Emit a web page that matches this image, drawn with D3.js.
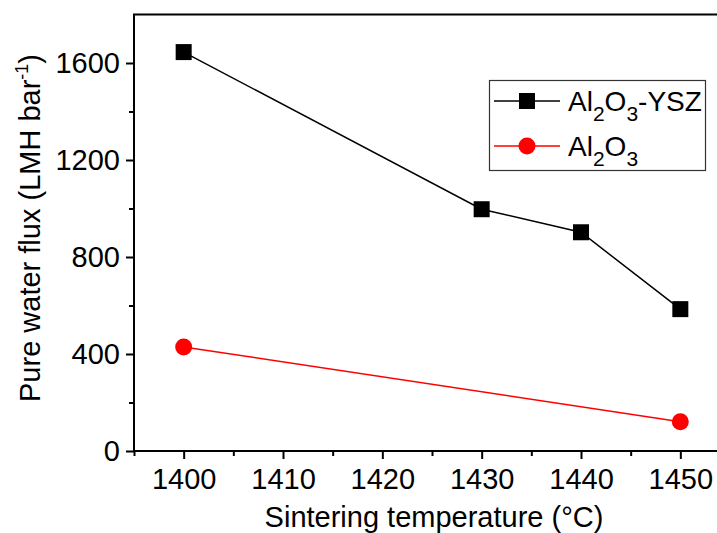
<!DOCTYPE html>
<html>
<head>
<meta charset="utf-8">
<script src="https://cdn.jsdelivr.net/npm/d3@7"></script>
<style>
  body { margin: 0; background: #fff; }
  text { font-family: "Liberation Sans", Arial, sans-serif; fill: #000; }
</style>
</head>
<body>
<div id="chart"></div>
<script>
// data
const temps = [1400, 1430, 1440, 1450];
const fluxYSZ = [1645, 997, 902, 585];
const tempsAl = [1400, 1450];
const fluxAl = [429, 121];
const xTicks = [1400, 1410, 1420, 1430, 1440, 1450];
const yTicks = [0, 400, 800, 1200, 1600];

const W = 717, H = 533;
const margin = {left: 134, top: 14.5, right: -13, bottom: 82};

const svg = d3.select("#chart").append("svg")
    .attr("width", W).attr("height", H);

const x = d3.scaleLinear().domain([1395, 1455]).range([margin.left, W - margin.right]);
const y = d3.scaleLinear().domain([0, 1800]).range([H - margin.bottom, margin.top]);

// frame
svg.append("rect")
    .attr("x", x(1395)).attr("y", y(1800))
    .attr("width", x(1455) - x(1395)).attr("height", y(0) - y(1800))
    .attr("fill", "none").attr("stroke", "#000").attr("stroke-width", 2);

// x axis
const xAxis = svg.append("g").attr("transform", `translate(0,${y(0)})`);
xAxis.call(d3.axisBottom(x).tickValues(xTicks).tickFormat(d3.format("d")).tickSize(8).tickPadding(9));
xAxis.append("g").call(d3.axisBottom(x).tickValues(d3.range(1395, 1456, 10)).tickSize(5).tickFormat(""));
xAxis.selectAll(".domain").remove();
xAxis.selectAll("line").attr("stroke-width", 2);
xAxis.selectAll("text").attr("font-size", 29).attr("font-family", "Liberation Sans");

// y axis
const yAxis = svg.append("g").attr("transform", `translate(${x(1395)},0)`);
yAxis.call(d3.axisLeft(y).tickValues(yTicks).tickFormat(d3.format("d")).tickSize(8).tickPadding(6));
yAxis.append("g").call(d3.axisLeft(y).tickValues([200, 600, 1000, 1400]).tickSize(5).tickFormat(""));
yAxis.selectAll(".domain").remove();
yAxis.selectAll("line").attr("stroke-width", 2);
yAxis.selectAll("text").attr("font-size", 29).attr("font-family", "Liberation Sans");

// axis titles
svg.append("text")
    .attr("x", 434).attr("y", 527)
    .attr("text-anchor", "middle").attr("font-size", 29)
    .text("Sintering temperature (\u00B0C)");

const yt = svg.append("text")
    .attr("transform", `translate(40,228) rotate(-90)`)
    .attr("text-anchor", "middle").attr("font-size", 29);
yt.append("tspan").text("Pure water flux (LMH bar");
yt.append("tspan").attr("dy", -12).attr("font-size", 18).text("-1");
yt.append("tspan").attr("dy", 12).text(")");

// series
const line = d3.line().x(d => x(d[0])).y(d => y(d[1]));
const ysz = temps.map((t, i) => [t, fluxYSZ[i]]);
const al = tempsAl.map((t, i) => [t, fluxAl[i]]);

svg.append("path").datum(ysz).attr("d", line)
    .attr("fill", "none").attr("stroke", "#000").attr("stroke-width", 1.5);
svg.append("path").datum(al).attr("d", line)
    .attr("fill", "none").attr("stroke", "#ff0000").attr("stroke-width", 1.5);

const sq = 16;
svg.selectAll(".sq").data(ysz).enter().append("rect")
    .attr("x", d => x(d[0]) - sq / 2).attr("y", d => y(d[1]) - sq / 2)
    .attr("width", sq).attr("height", sq).attr("fill", "#000");
svg.selectAll(".ci").data(al).enter().append("circle")
    .attr("cx", d => x(d[0])).attr("cy", d => y(d[1])).attr("r", 8.5)
    .attr("fill", "#ff0000");

// legend
const lg = svg.append("g");
lg.append("rect").attr("x", 489.5).attr("y", 80.5).attr("width", 216).attr("height", 90)
    .attr("fill", "#fff").attr("stroke", "#333").attr("stroke-width", 1.2);

function sub(t, parts) {
  parts.forEach(p => {
    const ts = t.append("tspan").text(p[0]);
    if (p[1]) ts.attr("font-size", 21).attr("dy", 10);
    else if (p[2]) ts.attr("dy", -10);
  });
}

lg.append("line").attr("x1", 494).attr("x2", 560).attr("y1", 101).attr("y2", 101)
    .attr("stroke", "#000").attr("stroke-width", 1.5);
lg.append("rect").attr("x", 527 - sq / 2).attr("y", 101 - sq / 2).attr("width", sq).attr("height", sq).attr("fill", "#000");
const t1 = lg.append("text").attr("x", 568).attr("y", 111).attr("font-size", 28);
sub(t1, [["Al"], ["2", true], ["O", false, true], ["3", true], ["-YSZ", false, true]]);

lg.append("line").attr("x1", 494).attr("x2", 560).attr("y1", 146).attr("y2", 146)
    .attr("stroke", "#ff0000").attr("stroke-width", 1.5);
lg.append("circle").attr("cx", 527).attr("cy", 146).attr("r", 8.5).attr("fill", "#ff0000");
const t2 = lg.append("text").attr("x", 568).attr("y", 156).attr("font-size", 28);
sub(t2, [["Al"], ["2", true], ["O", false, true], ["3", true]]);
</script>
</body>
</html>
